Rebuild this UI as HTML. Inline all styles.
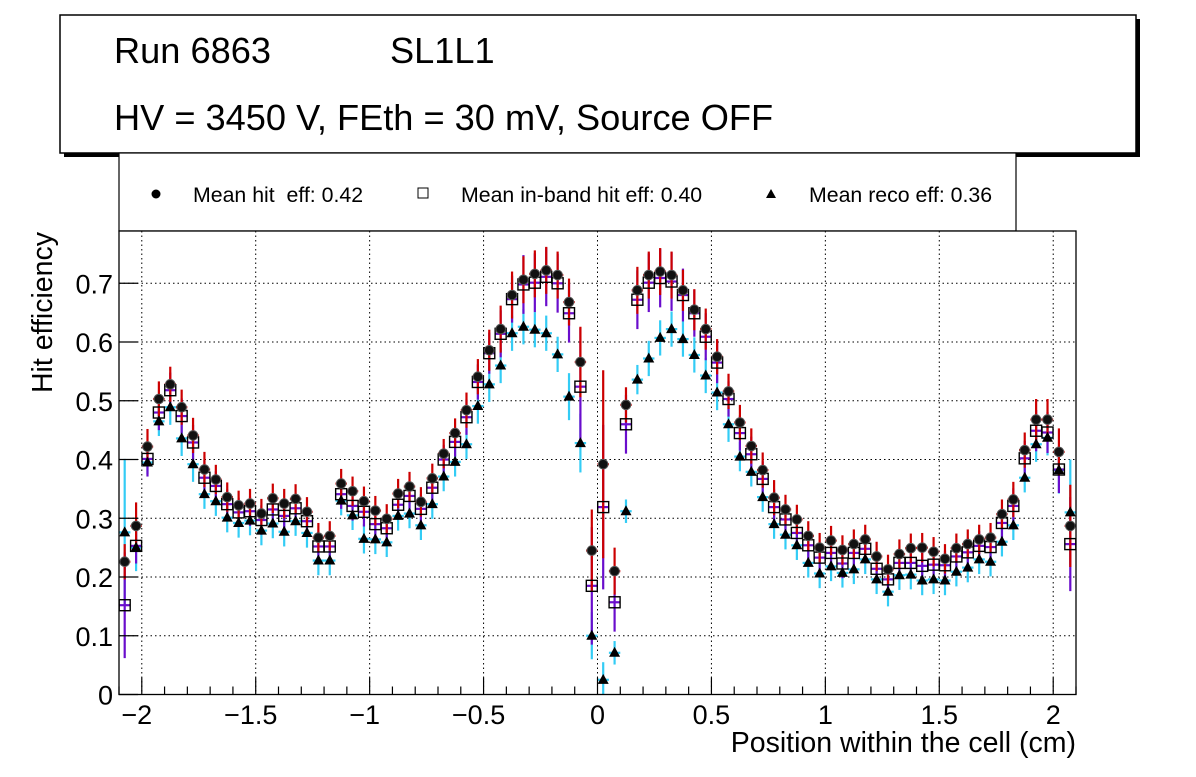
<!DOCTYPE html>
<html><head><meta charset="utf-8"><style>
html,body{margin:0;padding:0;background:#fff;}
svg text{font-family:"Liberation Sans",Arial,sans-serif;white-space:pre;}
</style></head><body>
<svg id="c" width="1196" height="772" viewBox="0 0 1196 772" xmlns="http://www.w3.org/2000/svg">
<g>
<rect x="64" y="19" width="1076" height="138" fill="#000"/>
<rect x="60" y="15" width="1076" height="138" fill="#fff" stroke="#000" stroke-width="1.5"/>
<text x="114" y="63" font-size="36.2">Run 6863</text>
<text x="390" y="63" font-size="36.2">SL1L1</text>
<text x="114" y="130" font-size="36.2">HV = 3450 V, FEth = 30 mV, Source OFF</text>
</g>
<g>
<rect x="119" y="153" width="897" height="78" fill="#fff" stroke="#000" stroke-width="1.2"/>
<g><circle cx="156" cy="194" r="4.5" fill="#000"/><text x="193" y="202" font-size="21.3" xml:space="preserve">Mean hit  eff: 0.42</text></g>
<g><rect x="418" y="188" width="10" height="10" fill="#fff" stroke="#000"/><text x="461" y="202" font-size="21.3">Mean in-band hit eff: 0.40</text></g>
<g><path d="M771 189 L776 198 L766 198 Z" fill="#000"/><text x="809" y="202" font-size="21.3">Mean reco eff: 0.36</text></g>
</g>
<g id="plot"></g>
<text x="1076" y="752" font-size="28.5" text-anchor="end">Position within the cell (cm)</text>
<text transform="translate(52,232) rotate(-90)" font-size="28.5" text-anchor="end">Hit efficiency</text>
</svg>
<script>
const hitEff=[0.226,0.287,0.422,0.503,0.528,0.489,0.441,0.383,0.366,0.336,0.322,0.325,0.308,0.334,0.325,0.333,0.311,0.267,0.270,0.359,0.346,0.329,0.313,0.299,0.342,0.354,0.328,0.368,0.410,0.445,0.484,0.541,0.586,0.622,0.680,0.706,0.716,0.722,0.714,0.668,0.566,0.245,0.392,0.210,0.493,0.688,0.714,0.720,0.714,0.688,0.655,0.622,0.575,0.516,0.463,0.423,0.382,0.335,0.315,0.298,0.270,0.250,0.262,0.246,0.256,0.264,0.235,0.213,0.239,0.249,0.250,0.243,0.231,0.249,0.256,0.264,0.267,0.307,0.332,0.416,0.468,0.468,0.413,0.287];
const inBandEff=[0.152,0.253,0.401,0.480,0.518,0.474,0.429,0.369,0.355,0.324,0.310,0.312,0.297,0.315,0.304,0.317,0.295,0.252,0.252,0.341,0.321,0.311,0.290,0.283,0.323,0.338,0.316,0.352,0.400,0.430,0.472,0.532,0.581,0.614,0.673,0.698,0.701,0.711,0.700,0.649,0.524,0.185,0.319,0.157,0.460,0.672,0.701,0.709,0.703,0.680,0.649,0.609,0.565,0.503,0.445,0.409,0.367,0.319,0.298,0.275,0.254,0.233,0.241,0.223,0.241,0.248,0.214,0.196,0.224,0.224,0.219,0.221,0.220,0.235,0.242,0.253,0.251,0.292,0.321,0.402,0.449,0.446,0.383,0.256];
const recoEff=[0.276,0.250,0.395,0.465,0.489,0.436,0.392,0.341,0.329,0.301,0.292,0.296,0.279,0.291,0.277,0.295,0.275,0.228,0.228,0.330,0.305,0.265,0.264,0.259,0.304,0.308,0.288,0.324,0.371,0.396,0.426,0.491,0.528,0.560,0.615,0.626,0.621,0.615,0.579,0.507,0.428,0.100,0.025,0.071,0.312,0.536,0.572,0.607,0.622,0.605,0.578,0.543,0.514,0.460,0.405,0.379,0.336,0.290,0.272,0.254,0.224,0.206,0.218,0.207,0.213,0.230,0.196,0.175,0.203,0.204,0.194,0.196,0.194,0.209,0.216,0.230,0.226,0.260,0.288,0.369,0.426,0.437,0.382,0.310];
const hitErr=[0.03,0.04,0.03,0.03,0.03,0.03,0.03,0.03,0.025,0.025,0.025,0.025,0.025,0.025,0.025,0.025,0.025,0.025,0.025,0.025,0.025,0.025,0.025,0.025,0.025,0.025,0.025,0.025,0.025,0.025,0.03,0.03,0.035,0.04,0.04,0.04,0.04,0.04,0.04,0.04,0.06,0.07,0.16,0.04,0.03,0.04,0.04,0.04,0.04,0.035,0.035,0.035,0.03,0.03,0.03,0.03,0.03,0.03,0.025,0.025,0.025,0.025,0.025,0.025,0.025,0.025,0.025,0.025,0.025,0.025,0.025,0.025,0.025,0.025,0.025,0.025,0.025,0.025,0.03,0.03,0.035,0.035,0.04,0.07];
const inBandErr=[0.09,0.03,0.03,0.03,0.03,0.03,0.03,0.03,0.025,0.025,0.025,0.025,0.025,0.025,0.025,0.025,0.025,0.025,0.025,0.025,0.025,0.025,0.025,0.025,0.025,0.025,0.025,0.025,0.025,0.025,0.03,0.03,0.035,0.04,0.04,0.05,0.05,0.05,0.05,0.05,0.1,0.1,0.14,0.05,0.05,0.05,0.05,0.05,0.05,0.045,0.04,0.04,0.035,0.03,0.03,0.03,0.03,0.03,0.025,0.025,0.025,0.025,0.025,0.025,0.025,0.025,0.025,0.025,0.025,0.025,0.025,0.025,0.025,0.025,0.025,0.025,0.025,0.025,0.03,0.03,0.035,0.035,0.04,0.08];
const recoErr=[0.125,0.04,0.02,0.025,0.03,0.03,0.03,0.025,0.025,0.025,0.025,0.025,0.025,0.025,0.025,0.025,0.025,0.025,0.025,0.025,0.025,0.025,0.025,0.025,0.025,0.025,0.025,0.025,0.025,0.025,0.025,0.03,0.03,0.03,0.03,0.03,0.03,0.03,0.03,0.04,0.05,0.04,0.03,0.02,0.02,0.025,0.03,0.03,0.03,0.03,0.03,0.03,0.03,0.03,0.025,0.025,0.025,0.025,0.025,0.025,0.025,0.025,0.025,0.025,0.025,0.025,0.025,0.025,0.025,0.025,0.025,0.025,0.025,0.025,0.025,0.025,0.025,0.025,0.025,0.025,0.03,0.03,0.04,0.09];
const xTickLabels=["\u22122","\u22121.5","\u22121","\u22120.5","0","0.5","1","1.5","2"];
const xTickValues=[-2,-1.5,-1,-0.5,0,0.5,1,1.5,2];
const yTickValues=[0,0.1,0.2,0.3,0.4,0.5,0.6,0.7];
const yTickLabels=["0","0.1","0.2","0.3","0.4","0.5","0.6","0.7"];
const xMin=-2.1,xMax=2.1,binW=0.05;

const L=119,R=1076,T=231,B=694.5,yMax=0.789;
const sx=v=>L+(v-xMin)/(xMax-xMin)*(R-L);
const sy=v=>B-v/yMax*(B-T);
const NS="http://www.w3.org/2000/svg";
const plot=document.getElementById('plot');
function mk(tag,attrs,parent){const e=document.createElementNS(NS,tag);for(const k in attrs)e.setAttribute(k,attrs[k]);(parent||plot).appendChild(e);return e;}

const frame=mk('rect',{x:L,y:T,width:R-L,height:B-T,fill:'#fff',stroke:'none'});


xTickValues.forEach(v=>{const g=mk('line',{x1:sx(v),x2:sx(v),y1:T,y2:B,stroke:'#000','stroke-width':1,'stroke-dasharray':'1.5,3'});

});
yTickValues.slice(1).forEach(v=>{const g=mk('line',{x1:L,x2:R,y1:sy(v),y2:sy(v),stroke:'#000','stroke-width':1,'stroke-dasharray':'1.5,3'});

});

const n=hitEff.length;
const hw=(sx(binW)-sx(0))/2;
function errBars(vals,errs,color,name){
  for(let i=0;i<n;i++){const x=sx(xMin+binW*(i+0.5));
    const v=mk('line',{x1:x,x2:x,y1:sy(Math.min(vals[i]+errs[i],yMax)),y2:sy(Math.max(vals[i]-errs[i],0)),stroke:color,'stroke-width':2.2});
    
    
    const h=mk('line',{x1:x-hw,x2:x+hw,y1:sy(vals[i]),y2:sy(vals[i]),stroke:color,'stroke-width':2.2});
    
    }
}
errBars(recoEff,recoErr,'#33ccf5','reco');
errBars(inBandEff,inBandErr,'#6a0dcc','inband');
errBars(hitEff,hitErr,'#cc0000','hit');
for(let i=0;i<n;i++){const x=sx(xMin+binW*(i+0.5));
  const t=mk('path',{d:`M${x} ${sy(recoEff[i])-6} L${x+5.5} ${sy(recoEff[i])+4} L${x-5.5} ${sy(recoEff[i])+4} Z`,fill:'#000'});
  
  }
for(let i=0;i<n;i++){const x=sx(xMin+binW*(i+0.5));
  const s=mk('rect',{x:x-5.5,y:sy(inBandEff[i])-5.5,width:11,height:11,fill:'none',stroke:'#000','stroke-width':1.4});
  
  }
for(let i=0;i<n;i++){const x=sx(xMin+binW*(i+0.5));
  const c=mk('circle',{cx:x,cy:sy(hitEff[i]),r:4.8,fill:'#111',stroke:'#555','stroke-width':1});
  
  }

const ax=mk('rect',{x:L,y:T,width:R-L,height:B-T,fill:'none',stroke:'#000','stroke-width':1.3});


for(let k=-21;k<=21;k++){const v=k/10;const major=(k%5===0);const len=major?17:8;
  const t=mk('line',{x1:sx(v),x2:sx(v),y1:B,y2:B-len,stroke:'#000','stroke-width':1.2});
  
  }
xTickValues.forEach((v,i)=>{const t=mk('text',{x:sx(v)+(v<0?-5:0),y:724,'font-size':27,'text-anchor':'middle'});t.textContent=xTickLabels[i];
  
  });
yTickValues.forEach((v,i)=>{const t=mk('line',{x1:L,x2:L+19,y1:sy(v),y2:sy(v),stroke:'#000','stroke-width':1.2});
  
  
  const l=mk('text',{x:113,y:sy(v)+10,'font-size':27,'text-anchor':'end'});l.textContent=yTickLabels[i];
  
  });
</script>
</body></html>
